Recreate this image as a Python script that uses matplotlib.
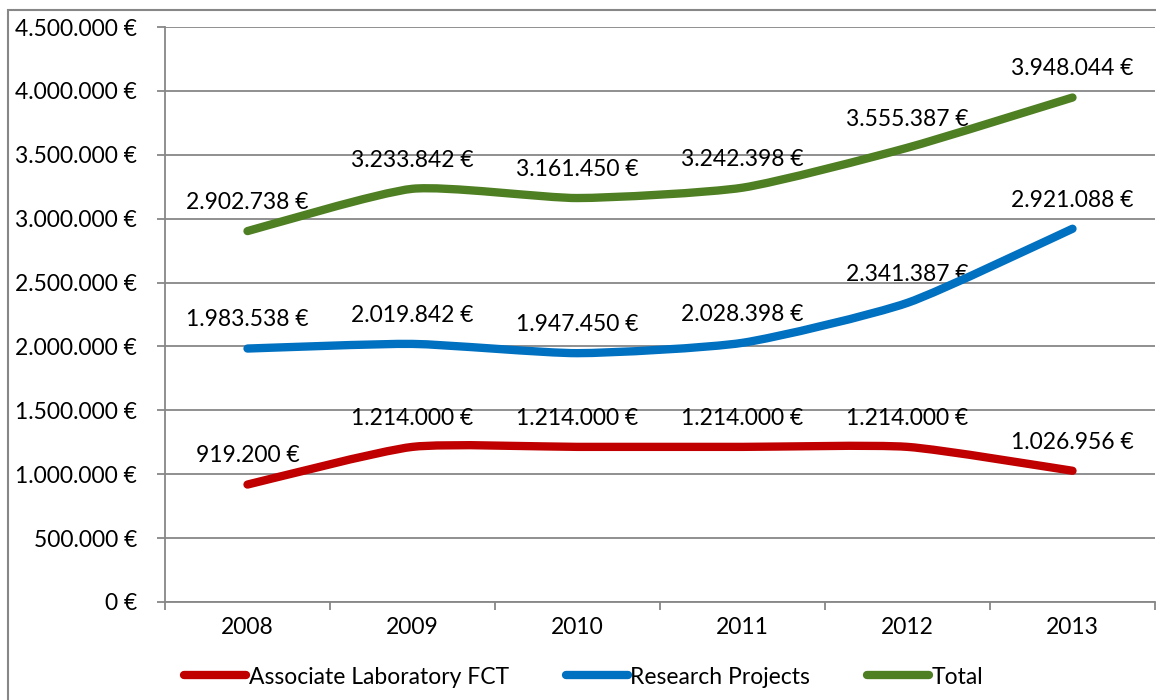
import matplotlib.pyplot as plt
import numpy as np
from matplotlib.path import Path
from matplotlib.patches import PathPatch, Rectangle
from matplotlib.lines import Line2D

years = ['2008', '2009', '2010', '2011', '2012', '2013']
associate = [919200, 1214000, 1214000, 1214000, 1214000, 1026956]
research = [1983538, 2019842, 1947450, 2028398, 2341387, 2921088]
total = [2902738, 3233842, 3161450, 3242398, 3555387, 3948044]

series = [('Associate Laboratory FCT', associate, '#C00000'),
          ('Research Projects', research, '#0070C0'),
          ('Total', total, '#4F7F23')]

plt.rcParams['font.family'] = ['Lato', 'DejaVu Sans']
fs = 16.5
grey = '#878787'


def euro(v):
    return f'{v:,}'.replace(',', '.') + ' €'


def smooth_path(xs, ys, k=10):
    # Excel-like smoothed line: cubic bezier through every point
    pts = np.column_stack([xs, ys]).astype(float)
    verts = [pts[0]]
    codes = [Path.MOVETO]
    n = len(pts)
    for i in range(n - 1):
        p0 = pts[max(i - 1, 0)]
        p1 = pts[i]
        p2 = pts[i + 1]
        p3 = pts[min(i + 2, n - 1)]
        c1 = p1 + (p2 - p0) / k
        c2 = p2 - (p3 - p1) / k
        verts += [c1, c2, p2]
        codes += [Path.CURVE4] * 3
    return Path(verts, codes)


fig = plt.figure(figsize=(11.56, 7), dpi=100)
ax = fig.add_axes([165 / 1156, 1 - 602 / 700, 990 / 1156, 575 / 700])

x = np.arange(len(years))
for name, vals, col in series:
    patch = PathPatch(smooth_path(x, vals), facecolor='none', edgecolor=col,
                      lw=6, capstyle='round', joinstyle='round', zorder=4)
    ax.add_patch(patch)
    for xi, v in zip(x, vals):
        ax.annotate(euro(v), (xi, v), xytext=(0, 13), textcoords='offset points',
                    ha='center', va='bottom', fontsize=fs, zorder=3)

ax.set_xlim(-0.5, len(years) - 0.5)
ax.set_ylim(0, 4500000)
yt = np.arange(0, 4500001, 500000)
ax.set_yticks(yt)
ax.set_yticklabels([euro(int(v)) for v in yt], fontsize=fs)
ax.yaxis.grid(True, color=grey, lw=1.3)
ax.set_axisbelow(True)

ax.set_xticks(np.arange(-0.5, len(years), 1))
ax.set_xticklabels([])
ax.set_xticks(x, minor=True)
ax.set_xticklabels(years, minor=True, fontsize=fs)
ax.tick_params(axis='x', which='major', length=6, width=1.3, color=grey, direction='out')
ax.tick_params(axis='x', which='minor', length=0, pad=11)
ax.tick_params(axis='y', length=6, width=1.3, color=grey, pad=14)

for s in ['top', 'right']:
    ax.spines[s].set_visible(False)
for s in ['left', 'bottom']:
    ax.spines[s].set_color(grey)
    ax.spines[s].set_linewidth(1.3)

handles = [Line2D([], [], color=col, lw=6, solid_capstyle='round') for _, _, col in series]
fig.legend(handles, [s[0] for s in series], loc='center', bbox_to_anchor=(0.505, 1 - 677 / 700),
           ncol=3, frameon=False, fontsize=fs, handlelength=2.7, handletextpad=0.1,
           columnspacing=2.5)

fig.patches.append(Rectangle((8 / 1156, -0.05), 1.2, 1.05 - 10 / 700, transform=fig.transFigure,
                             fill=False, edgecolor=grey, lw=1.5))

fig.savefig('out.png', dpi=100)
